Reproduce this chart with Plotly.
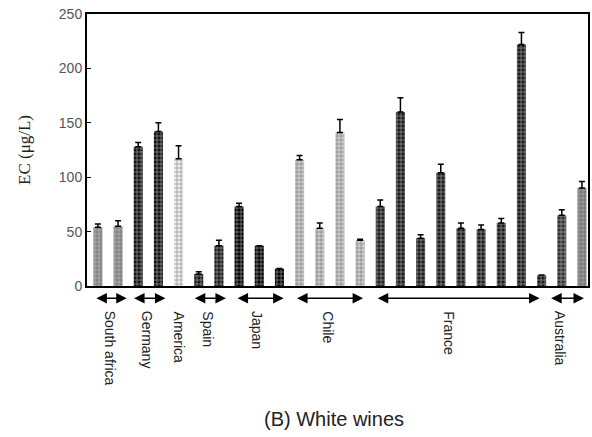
import plotly.graph_objects as go

countries = ["South africa", "Germany", "America", "Spain", "Japan", "Chile", "France", "Australia"]
bar_country = (["South africa"] * 2 + ["Germany"] * 2 + ["America"] + ["Spain"] * 2 + ["Japan"] * 3
               + ["Chile"] * 4 + ["France"] * 9 + ["Australia"] * 2)
values = [54, 55, 128, 142, 117, 11, 37, 73, 37, 16, 116, 53, 141, 42,
          73, 160, 44, 104, 53, 52, 58, 222, 10, 65, 90]
errors = [3, 5, 4, 8, 12, 2, 5, 3, 0, 0, 4, 5, 12, 1,
          6, 13, 3, 8, 5, 4, 4, 11, 0, 5, 6]
y_ticks = [0, 50, 100, 150, 200, 250]

# arrow spans (bar index units) and label positions
arrow_spans = {"South africa": (-0.15, 1.43), "Germany": (1.72, 3.35), "Spain": (4.73, 6.35),
               "Japan": (6.85, 9.21), "Chile": (9.8, 13.15), "France": (13.8, 21.9),
               "Australia": (22.4, 24.1)}
label_pos = {"South africa": 0.6, "Germany": 2.45, "America": 4.0, "Spain": 5.45,
             "Japan": 7.9, "Chile": 11.4, "France": 17.4, "Australia": 22.95}

# (background, pattern) colours per bar
bar_bg = (["#a4a4a4"] * 2 + ["#141414"] * 2 + ["#eeeeee"] + ["#1a1a1a"] * 2 + ["#050505"] * 3
          + ["#cccccc"] * 4 + ["#1e1e1e"] * 9 + ["#333333", "#959595"])
bar_fg = (["#5e5e5e"] * 2 + ["#707070"] * 2 + ["#a8a8a8"] + ["#555555"] * 2 + ["#2a2a2a"] * 3
          + ["#808080"] * 4 + ["#7a7a7a"] * 9 + ["#909090", "#4a4a4a"])

x = list(range(len(values)))
fig = go.Figure()
fig.add_trace(go.Bar(
    x=x, y=values, width=0.45,
    marker=dict(
        color=bar_bg,
        line=dict(width=0),
        pattern=dict(shape="+", size=4, solidity=0.35, fgcolor=bar_fg, bgcolor=bar_bg),
    ),
    error_y=dict(type="data", symmetric=False, array=errors, arrayminus=[0] * len(errors),
                 color="black", thickness=1.5, width=3),
    showlegend=False,
))

annotations = []
for c, (a, b) in arrow_spans.items():
    annotations.append(dict(x=b, y=-0.045, xref="x", yref="paper", ax=a, ay=0,
                            axref="x", ayref="pixel", showarrow=True,
                            arrowhead=2, arrowside="end+start", arrowsize=1.4,
                            arrowwidth=1.5, arrowcolor="black", text=""))
for c in countries:
    annotations.append(dict(x=label_pos[c], y=-0.085, xref="x", yref="paper",
                            text=c, textangle=90, showarrow=False,
                            xanchor="center", yanchor="top",
                            font=dict(family="Liberation Sans, Arial", size=14, color="#222")))
annotations.append(dict(x=11.7, y=-0.49, xref="x", yref="paper", text="(B) White wines",
                        showarrow=False, xanchor="center", yanchor="middle",
                        font=dict(family="Liberation Sans, Arial", size=20, color="#222")))

fig.update_layout(
    width=592, height=437,
    margin=dict(l=87, r=2, t=14, b=151),
    plot_bgcolor="white", paper_bgcolor="white",
    annotations=annotations,
    xaxis=dict(range=[-0.54, 24.3], showticklabels=False, ticks="", showgrid=False,
               zeroline=False, showline=True, linecolor="black", linewidth=2, mirror=True),
    yaxis=dict(range=[0, 250], tickvals=y_ticks, ticks="inside", ticklen=4, tickcolor="black",
               showgrid=False, zeroline=False, showline=True, linecolor="black", linewidth=2,
               mirror=True,
               tickfont=dict(family="Liberation Sans, Arial", size=14, color="#555"),
               title=dict(text="EC (μg/L)", standoff=24,
                          font=dict(family="Liberation Serif, Times New Roman", size=17, color="#222"))),
)

fig.write_html("out.html", config={"displayModeBar": False},
               post_script="document.body.style.margin='0';")
